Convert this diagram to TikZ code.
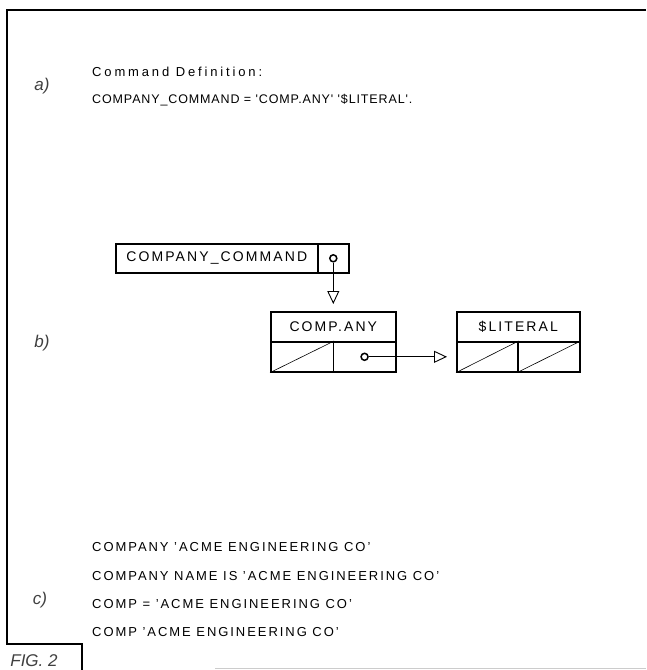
\documentclass[tikz,border=0pt]{standalone}
\usepackage{fontspec}
\setmainfont{Liberation Sans}[LetterSpace=15]
\newfontfamily\labelfont{Liberation Sans}[LetterSpace=0]
\newfontfamily\defafont{Liberation Sans}[LetterSpace=7]
\newfontfamily\defbfont{Liberation Sans}[LetterSpace=22]
\usetikzlibrary{arrows.meta}
\begin{document}
\begin{tikzpicture}[x=1pt,y=-1pt,
  txt/.style={anchor=west,inner sep=0pt,font=\fontsize{13}{15}\selectfont},
  lbl/.style={anchor=center,inner sep=0pt,text=black!75,font=\labelfont\fontsize{17}{19}\selectfont\itshape},
  cell/.style={draw,line width=1.6pt,anchor=north west,inner sep=0pt,font=\fontsize{14}{16}\selectfont},
  ring/.style={circle,draw,line width=1.5pt,fill=white,minimum size=7pt,inner sep=0pt},
  link/.style={line width=0.8pt,-{Triangle[open,length=13pt,width=12pt,line width=0.9pt]}},
  slash/.style={line width=0.6pt}]
\useasboundingbox (0,0) rectangle (646,670);
\fill[white] (0,0) rectangle (646,670);
% frame
\draw[line width=1.4pt] (646,10) -- (7,10) -- (7,644) -- (82,644) -- (82,675);
\draw[black!20, line width=0.6pt] (215,668) -- (646,668);
\node[lbl] (fig) at (34,661) {FIG. 2};
% part a
\node[lbl] (la) at (42,86) {a)};
\node[txt,font=\defbfont\fontsize{13}{15}\selectfont] (t1) at (92,72) {Command Definition:};
\node[txt,font=\defafont\fontsize{12.5}{14}\selectfont] (t2) at (92,100) {COMPANY\_COMMAND = 'COMP.ANY' '\$LITERAL'.};
% part b
\node[lbl] (lb) at (42,343) {b)};
\node[cell,minimum width=202pt,minimum height=29pt] (cc) at (115,243) {COMPANY\_COMMAND};
\node[cell,minimum width=31pt,minimum height=29pt] (ccp) at (317,243) {};
\node[cell,minimum width=125pt,minimum height=30pt] (ca) at (270,311) {COMP.ANY};
\node[cell,minimum width=62.5pt,minimum height=30pt] (cal) at (270,341) {};
\node[cell,minimum width=62.5pt,minimum height=30pt] (car) at (332.5,341) {};
\node[cell,minimum width=123pt,minimum height=30pt] (lt) at (456,311) {\$LITERAL};
\node[cell,minimum width=61pt,minimum height=30pt] (ltl) at (456,341) {};
\node[cell,minimum width=62pt,minimum height=30pt] (ltr) at (517,341) {};
\draw[slash] (cal.south west) -- (cal.north east);
\draw[slash] (ltl.south west) -- (ltl.north east);
\draw[slash] (ltr.south west) -- (ltr.north east);
\node[ring] (r1) at (ccp.center) {};
\node[ring] (r2) at (car.center) {};
\draw[link,shorten >=7pt] (r1) -- (ca.north);
\draw[link,shorten >=9pt] (r2) -- (ltl.west);
% part c
\node[lbl] (lc) at (40,600) {c)};
\node[txt] (c1) at (92,547) {COMPANY 'ACME ENGINEERING CO'};
\node[txt] (c2) at (92,576) {COMPANY NAME IS 'ACME ENGINEERING CO'};
\node[txt] (c3) at (92,604) {COMP = 'ACME ENGINEERING CO'};
\node[txt] (c4) at (92,632) {COMP 'ACME ENGINEERING CO'};
\end{tikzpicture}
\end{document}
